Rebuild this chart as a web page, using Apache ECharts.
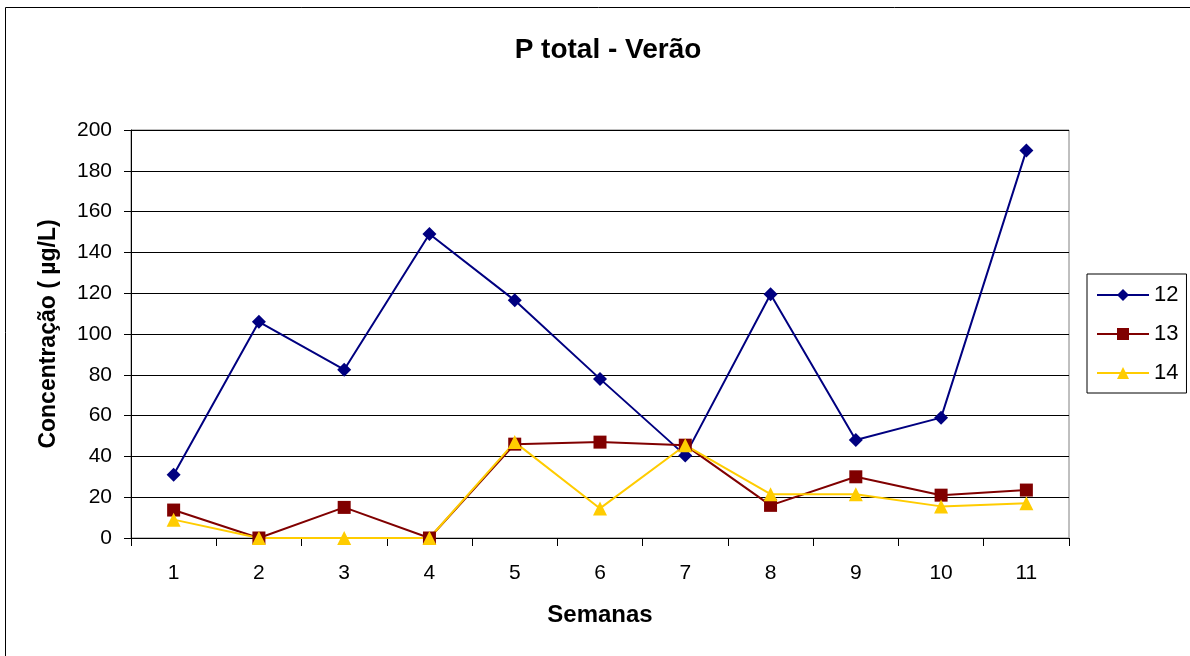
<!DOCTYPE html>
<html>
<head>
<meta charset="utf-8">
<script src="https://cdn.jsdelivr.net/npm/echarts@6/dist/echarts.min.js"></script>
<style>
  html, body { margin: 0; padding: 0; background: #fff; }
  #chart { width: 1190px; height: 656px; }
</style>
</head>
<body>
<div id="chart"></div>
<script>
// P total - Verão: concentração semanal por ponto
const semanas = ['1', '2', '3', '4', '5', '6', '7', '8', '9', '10', '11'];
const serieNames = ['12', '13', '14'];
const p12 = [31, 106, 82.5, 149, 116.5, 78, 40.5, 119.5, 48, 59, 190];
const p13 = [13.7, 0, 15, 0, 46, 47, 45.5, 16, 30, 21, 23.5];
const p14 = [9, 0, 0, 0, 47, 14.5, 45.5, 21.5, 21.5, 15.5, 17];

const fontFam = '"Liberation Sans", Arial, sans-serif';

const chart = echarts.init(document.getElementById('chart'));
chart.setOption({
    backgroundColor: '#fff',
    animation: false,
    textStyle: { fontFamily: fontFam },
    title: {
        text: 'P total - Verão',
        left: 603, top: 31, textAlign: 'center',
        textStyle: { fontFamily: fontFam, fontSize: 28, fontWeight: 'bold', color: '#000' }
    },
    // outer chart frame
    graphic: [{
        type: 'rect',
        shape: { x: 5.5, y: 7.5, width: 1200, height: 700 },
        style: { fill: 'none', stroke: '#000', lineWidth: 1 },
        silent: true
    }],
    legend: {
        data: serieNames,
        orient: 'vertical',
        left: 1087, top: 274,
        padding: [10, 8, 9, 9],
        itemGap: 17,
        itemWidth: 52, itemHeight: 15,
        borderColor: '#000', borderWidth: 1,
        textStyle: { fontFamily: fontFam, fontSize: 22, color: '#000' }
    },
    grid: {
        left: 131, right: 121, top: 130, bottom: 118,
        show: true, borderColor: '#808080', borderWidth: 1
    },
    xAxis: {
        type: 'category',
        data: semanas,
        boundaryGap: true,
        name: 'Semanas',
        nameLocation: 'middle',
        nameGap: 65,
        nameTextStyle: { fontFamily: fontFam, fontSize: 24, fontWeight: 'bold', color: '#000' },
        axisLine: { lineStyle: { color: '#000', width: 1 } },
        axisTick: { show: true, length: 8, lineStyle: { color: '#000' } },
        axisLabel: { fontFamily: fontFam, fontSize: 21, color: '#000', margin: 25 }
    },
    yAxis: {
        type: 'value',
        min: 0, max: 200, interval: 20,
        name: 'Concentração ( µg/L)',
        nameLocation: 'middle',
        nameGap: 71,
        nameTextStyle: { fontFamily: fontFam, fontSize: 23, fontWeight: 'bold', color: '#000' },
        axisLine: { show: true, lineStyle: { color: '#000', width: 1 } },
        axisTick: { show: true, length: 7, lineStyle: { color: '#000' } },
        axisLabel: { fontFamily: fontFam, fontSize: 21, color: '#000', margin: 19 },
        splitLine: { show: true, lineStyle: { color: '#000', width: 1 } }
    },
    series: [
        {
            name: '12', type: 'line', data: p12,
            symbol: 'diamond', symbolSize: 14,
            itemStyle: { color: '#000080' },
            lineStyle: { color: '#000080', width: 2 }
        },
        {
            name: '13', type: 'line', data: p13,
            symbol: 'rect', symbolSize: 13,
            itemStyle: { color: '#800000' },
            lineStyle: { color: '#800000', width: 2 }
        },
        {
            name: '14', type: 'line', data: p14,
            symbol: 'triangle', symbolSize: 14,
            itemStyle: { color: '#FFCC00' },
            lineStyle: { color: '#FFCC00', width: 2 }
        }
    ]
});
</script>
</body>
</html>
